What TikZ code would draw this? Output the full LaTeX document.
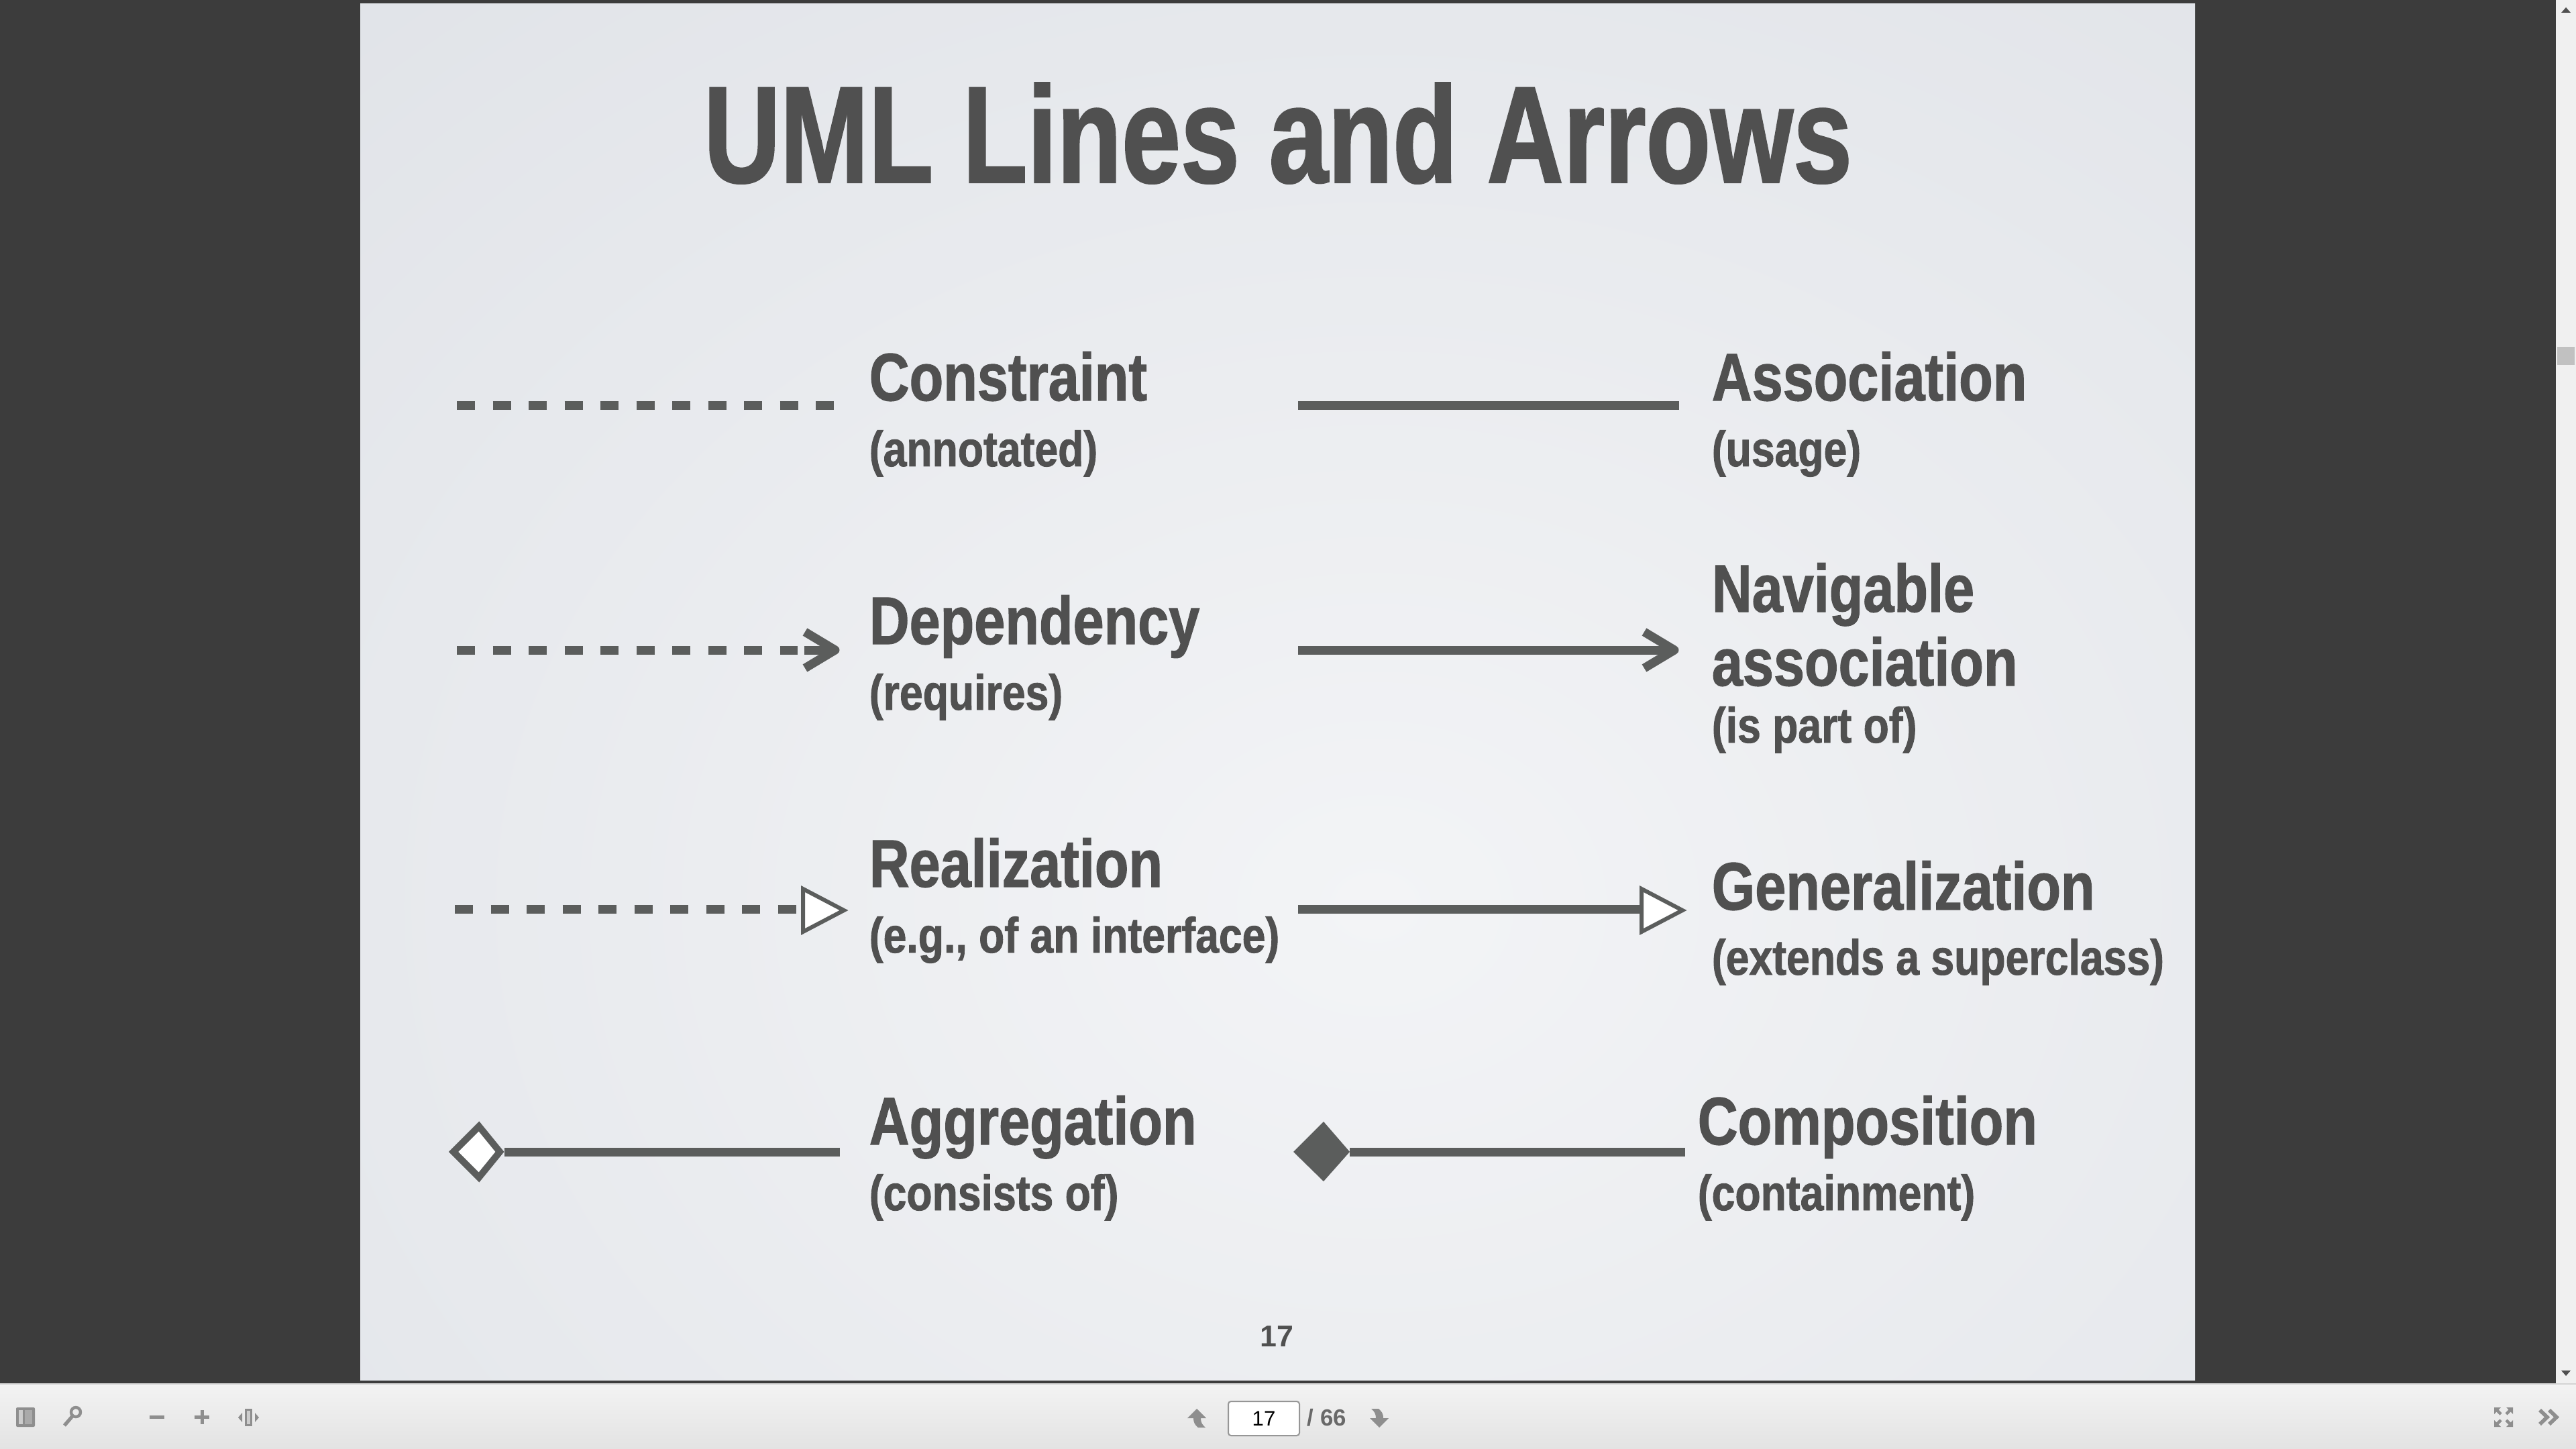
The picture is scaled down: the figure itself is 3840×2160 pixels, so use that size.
\documentclass[tikz,border=0pt]{standalone}
\usepackage{fontspec}
\setmainfont{Liberation Sans}
\newfontfamily\titlefont[FakeStretch=0.77,BoldFeatures={FakeBold=1.2}]{Liberation Sans}
\newfontfamily\labfont[FakeStretch=0.825,BoldFeatures={FakeBold=1.2}]{Liberation Sans}
\newfontfamily\subfont[FakeStretch=0.845,BoldFeatures={FakeBold=1.2}]{Liberation Sans}
\definecolor{pagebg}{HTML}{3C3C3C}
\definecolor{ink}{HTML}{505050}
\definecolor{lineink}{HTML}{5B5D5C}
\definecolor{slidein}{HTML}{F3F4F6}
\definecolor{slideout}{HTML}{D3D7DE}
\definecolor{uigray}{HTML}{8E8E8E}
\definecolor{barbg}{HTML}{F0F0F0}
\definecolor{scrollarrow}{HTML}{505050}
\definecolor{thumb}{HTML}{C1C1C1}
\definecolor{bartop}{HTML}{F3F3F3}
\definecolor{barbot}{HTML}{E3E3E3}
\definecolor{barline}{HTML}{D4D4D4}
\definecolor{iconlight}{HTML}{CDCDCD}
\definecolor{iconmid}{HTML}{AAAAAA}
\definecolor{boxline}{HTML}{969696}
\definecolor{totgray}{HTML}{696969}
\begin{document}
\begin{tikzpicture}[x=0.25pt,y=-0.25pt,
  head/.style={font=\labfont\bfseries\fontsize{25.1pt}{30pt}\selectfont, text=ink, inner sep=0pt, anchor=base west},
  sub/.style={font=\subfont\bfseries\fontsize{18.5pt}{22pt}\selectfont, text=ink, inner sep=0pt, anchor=base west},
  umlline/.style={draw=lineink, line width=3.25pt, line cap=butt},
  dashline/.style={umlline, dash pattern=on 6.75pt off 6.625pt},
  barb/.style={draw=lineink, line width=3.25pt, line join=round, line cap=butt},
  opentri/.style={draw=lineink, fill=white, line width=1.5pt, line join=miter},
  opendia/.style={draw=lineink, fill=white, line width=2.5pt, line join=miter},
  fulldia/.style={fill=lineink, draw=none},
  icon/.style={fill=uigray, draw=none},
  iconline/.style={draw=uigray, line width=1.1pt},
  uitext/.style={inner sep=0pt, anchor=base}
]
\useasboundingbox (0,0) rectangle (3840,2160);
% page background
\fill[pagebg] (0,0) rectangle (3840,2160);
% slide
\begin{scope}
  \clip (537,6) rectangle (3272,2057);
  \shade[inner color=slidein, outer color=slideout] (-1950,-1850) rectangle (6050,4550);
\end{scope}
% title
\node[font=\titlefont\bfseries\fontsize{51.3pt}{60pt}\selectfont, text=ink, inner sep=0pt, anchor=base] (title) at (1905,272) {UML Lines and Arrows};

% ---- Row 1
\coordinate (c1s) at (681,605);  \coordinate (c1e) at (1243,605);
\draw[dashline] (c1s) -- (c1e);
\node[head] (tcon) at (1295,597) {Constraint};
\node[sub]  (scon) at (1295,695) {(annotated)};
\coordinate (a1s) at (1935,605); \coordinate (a1e) at (2503,605);
\draw[umlline] (a1s) -- (a1e);
\node[head] (tass) at (2551,597) {Association};
\node[sub]  (sass) at (2551,695) {(usage)};

% ---- Row 2
\coordinate (d2s) at (681,969);  \coordinate (d2m) at (1189,969);
\coordinate (d2t) at (1199,969); \coordinate (d2e) at (1245,969);
\draw[dashline] (d2s) -- (d2m);
\draw[umlline] (d2t) -- (d2e);
\draw[barb] (d2e) ++(-45,-27) -- (d2e) -- +(-45,27);
\node[head] (tdep) at (1295,960) {Dependency};
\node[sub]  (sdep) at (1295,1058) {(requires)};
\coordinate (n2s) at (1935,969); \coordinate (n2e) at (2496,969);
\draw[umlline] (n2s) -- (n2e);
\draw[barb] (n2e) ++(-45,-27) -- (n2e) -- +(-45,27);
\node[head] (tnav1) at (2551,912) {Navigable};
\node[head] (tnav2) at (2551,1022) {association};
\node[sub]  (snav)  at (2551,1107) {(is part of)};

% ---- Row 3
\coordinate (r3s) at (678,1355); \coordinate (r3e) at (1197,1355);
\draw[dashline] (r3s) -- (r3e);
\draw[opentri] (1197,1325) -- (1258,1357) -- (1197,1389) -- cycle;
\node[head] (trea) at (1295,1322) {Realization};
\node[sub]  (srea) at (1295,1420) {(e.g., of an interface)};
\coordinate (g3s) at (1935,1355); \coordinate (g3e) at (2447,1355);
\draw[umlline] (g3s) -- (g3e);
\draw[opentri] (2447,1325) -- (2508,1357) -- (2447,1389) -- cycle;
\node[head] (tgen) at (2551,1356) {Generalization};
\node[sub]  (sgen) at (2551,1453) {(extends a superclass)};

% ---- Row 4
\coordinate (ag4s) at (752,1717); \coordinate (ag4e) at (1252,1717);
\draw[umlline] (ag4s) -- (ag4e);
\draw[opendia] (676,1717) -- (714,1679) -- (745,1717) -- (714,1755) -- cycle;
\node[head] (tagg) at (1295,1706) {Aggregation};
\node[sub]  (sagg) at (1295,1804) {(consists of)};
\coordinate (co4s) at (2012,1717); \coordinate (co4e) at (2512,1717);
\draw[umlline] (co4s) -- (co4e);
\fill[fulldia] (1928,1717) -- (1973,1672) -- (2012,1717) -- (1973,1761) -- cycle;
\node[head] (tcom) at (2530,1706) {Composition};
\node[sub]  (scom) at (2530,1804) {(containment)};

% slide page number
\node[font=\bfseries\fontsize{11.2pt}{13pt}\selectfont, text=ink, inner sep=0pt, anchor=base] (pnum) at (1903,2007) {17};

% ---- scrollbar
\fill[barbg] (3810,0) rectangle (3840,2062);
\fill[scrollarrow] (3818,19) -- (3825,11) -- (3832,19) -- cycle;
\fill[scrollarrow] (3818,2043) -- (3832,2043) -- (3825,2051) -- cycle;
\fill[thumb] (3812,517) rectangle (3838,544);

% ---- toolbar
\shade[top color=bartop, bottom color=barbot] (0,2062) rectangle (3840,2160);
\draw[barline, line width=0.6pt] (0,2063) -- (3840,2063);
% sidebar icon
\fill[icon, rounded corners=0.5pt] (24,2098) rectangle (52,2127);
\fill[iconlight] (28,2102) rectangle (34,2123);
\fill[iconmid] (37,2102) rectangle (48,2123);
% magnifier
\draw[iconline] (113,2105) circle (7);
\draw[iconline, line width=1.3pt] (108,2111) -- (96,2125);
% minus / plus
\fill[icon] (223,2110) rectangle (245,2115);
\fill[icon] (290,2110) rectangle (312,2115);
\fill[icon] (298.5,2102) rectangle (303.5,2123);
% fit icon
\fill[icon] (365,2100) rectangle (376,2126);
\fill[iconlight] (368,2103) rectangle (373,2123);
\fill[icon] (361,2106) -- (355,2113) -- (361,2120) -- cycle;
\fill[icon] (380,2106) -- (386,2113) -- (380,2120) -- cycle;
% page up arrow
\fill[icon] (1770,2114) -- (1784,2100) -- (1798,2114) -- (1790,2114) .. controls (1790,2122) and (1793,2124) .. (1797,2128) -- (1786,2128) .. controls (1781,2124) and (1779,2120) .. (1779,2114) -- cycle;
% page box
\draw[draw=boxline, fill=white, line width=0.5pt, rounded corners=1pt] (1831,2089) rectangle (1937,2140);
\node[uitext, font=\fontsize{7.8pt}{9pt}\selectfont, text=black] (pin) at (1884,2125) {17};
\node[uitext, anchor=base west, font=\bfseries\fontsize{8.7pt}{10pt}\selectfont, text=totgray] (ptot) at (1948,2125) {/ 66};
% page down arrow
\fill[icon] (2042,2114) -- (2056,2128) -- (2070,2114) -- (2062,2114) .. controls (2062,2106) and (2059,2104) .. (2055,2100) -- (2044,2100) .. controls (2049,2104) and (2051,2108) .. (2051,2114) -- cycle;
% fullscreen icon
\fill[icon] (3718,2098) -- (3728,2098) -- (3718,2108) -- cycle;
\fill[icon] (3746,2098) -- (3736,2098) -- (3746,2108) -- cycle;
\fill[icon] (3718,2127) -- (3728,2127) -- (3718,2117) -- cycle;
\fill[icon] (3746,2127) -- (3736,2127) -- (3746,2117) -- cycle;
\draw[iconline] (3721,2101) -- (3728,2108);
\draw[iconline] (3743,2101) -- (3736,2108);
\draw[iconline] (3721,2124) -- (3728,2117);
\draw[iconline] (3743,2124) -- (3736,2117);
% >> icon
\draw[iconline, line width=1.4pt, line join=miter] (3786,2102) -- (3797,2112.5) -- (3786,2123);
\draw[iconline, line width=1.4pt, line join=miter] (3800,2102) -- (3811,2112.5) -- (3800,2123);
\end{tikzpicture}
\end{document}
